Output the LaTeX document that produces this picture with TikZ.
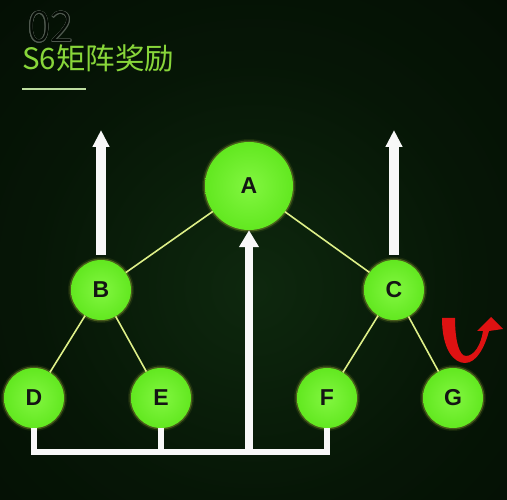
\documentclass[tikz,border=0pt]{standalone}
\usepackage{fontspec}
\usepackage{contour}
\usetikzlibrary{arrows.meta}
\newfontfamily\cjk{Noto Sans CJK SC}
\newfontfamily\cjkl{Noto Sans CJK SC Light}
\newfontfamily\letterfont{Liberation Sans}[BoldFont={Liberation Sans Bold}]
\definecolor{bgin}{RGB}{14,40,14}
\definecolor{bgmid}{RGB}{6,22,6}
\definecolor{bgout}{RGB}{2,7,2}
\definecolor{numfill}{RGB}{3,10,3}
\definecolor{numgray}{RGB}{80,90,80}
\definecolor{titlegreen}{RGB}{136,214,58}
\definecolor{titleline}{RGB}{190,222,160}
\definecolor{gin}{RGB}{130,246,64}
\definecolor{gout}{RGB}{98,232,32}
\definecolor{glowc}{RGB}{215,240,70}
\definecolor{edgec}{RGB}{222,240,136}
\definecolor{redc}{RGB}{222,18,18}
\definecolor{offwhite}{RGB}{248,248,248}
\pgfdeclareradialshading{bgshade}{\pgfpoint{0bp}{-4bp}}{color(0bp)=(bgin); color(22bp)=(bgmid); color(55bp)=(bgout); color(100bp)=(bgout)}
\contourlength{0.45pt}
\begin{document}
\begin{tikzpicture}[x=1pt,y=-1pt,
  gnode/.style={circle, inner sep=0pt, shading=radial, inner color=gin, outer color=gout,
    font=\letterfont\bfseries\fontsize{23}{23}\selectfont, text={black!92},
    preaction={draw=glowc, line width=6pt, draw opacity=0.08},
    preaction={draw=glowc, line width=3pt, draw opacity=0.25}},
  bignode/.style={gnode, minimum size=88pt},
  smallnode/.style={gnode, minimum size=60pt},
  edge/.style={draw=edgec, line width=1.6pt},
  warrow/.style={draw=offwhite, line width=10pt, -{Triangle[width=16pt,length=17pt]}},
  barline/.style={draw=offwhite, line width=6pt},
  redarrow/.style={fill=redc}]
\useasboundingbox (0,0) rectangle (507,500);
\shade[shading=bgshade] (0,0) rectangle (507,500);

% title
\node[anchor=base west, inner sep=0pt, font=\cjkl\fontsize{42}{42}\selectfont, text=numfill] (num) at (28,42) {\contour{numgray}{02}};
\node[anchor=base west, inner sep=0pt, text=titlegreen, font=\cjk\fontsize{29.5}{30}\selectfont] (title) at (22,70) {S6矩阵奖励};
\coordinate (tl1) at (22,89);
\coordinate (tl2) at (86,89);
\draw[draw=titleline, line width=1.5pt] (tl1) -- (tl2);

% nodes
\node[bignode] (A) at (249,186) {A};
\node[smallnode] (B) at (101,290) {B};
\node[smallnode] (C) at (394,290) {C};
\node[smallnode] (D) at (34,398) {D};
\node[smallnode] (E) at (161,398) {E};
\node[smallnode] (F) at (327,398) {F};
\node[smallnode] (G) at (453,398) {G};

% edges
\draw[edge] (A) -- (B);
\draw[edge] (A) -- (C);
\draw[edge] (B) -- (D);
\draw[edge] (B) -- (E);
\draw[edge] (C) -- (F);
\draw[edge] (C) -- (G);

% upward arrows
\coordinate (Btip) at (101,130);
\coordinate (Ctip) at (394,130);
\draw[warrow] ([yshift=5pt]B.north) -- (Btip);
\draw[warrow] ([yshift=5pt]C.north) -- (Ctip);

% bottom bracket
\coordinate (barY) at (0,452);
\draw[barline] (D.south) -- (D.south |- barY) -- (F.south |- barY) -- (F.south);
\draw[barline] (E.south) -- (E.south |- barY);
\draw[draw=offwhite, line width=8pt, -{Triangle[width=19pt,length=17pt]}] (A.south |- barY) -- (A.south);

% red U-turn arrow
\fill[redarrow] (442,318) .. controls (442,350) and (454,363) .. (465,363)
  .. controls (477,363) and (485,346) .. (489,331) -- (503,329) -- (491,317) -- (477,331) -- (483,331)
  .. controls (481,345) and (474,356) .. (466,356)
  .. controls (459,356) and (455,340) .. (455,318) -- cycle;
\end{tikzpicture}
\end{document}
